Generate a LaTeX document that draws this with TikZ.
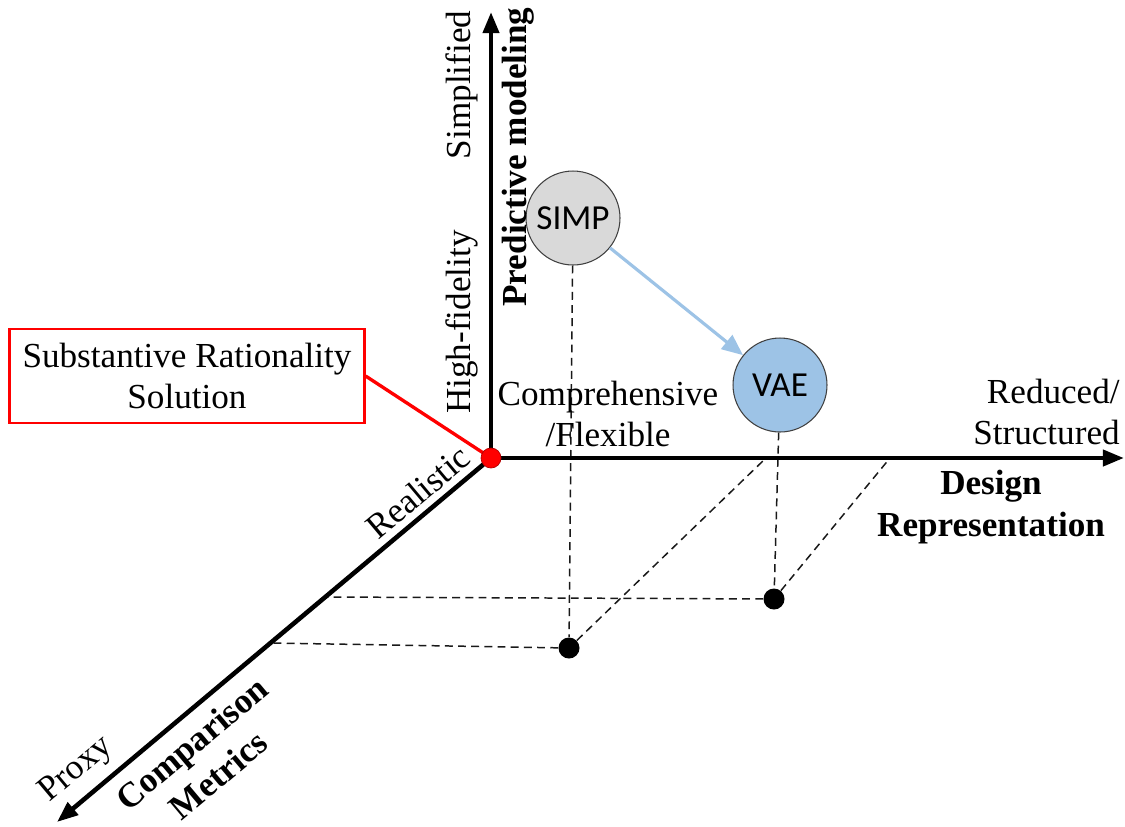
\documentclass[tikz,border=0pt]{standalone}
\usepackage{fontspec}
\setmainfont{Liberation Serif}
\newfontfamily\bubfont{Carlito}
\usepackage{tikz}
\usetikzlibrary{arrows.meta}
\definecolor{simpgray}{RGB}{217,217,217}
\definecolor{vaeblue}{RGB}{157,195,230}
\definecolor{ringgray}{RGB}{64,64,64}

\begin{document}
\begin{tikzpicture}[x=0.02cm,y=-0.02cm,
                  ax/.style={line width=2.6pt,-{Triangle[length=12pt,width=9pt]}},
                  dsh/.style={dash pattern=on 4.5pt off 3pt,line width=0.85pt,black!90},
                  bub/.style={circle,draw=ringgray,line width=0.6pt,minimum size=1.88cm,inner sep=0pt,font=\bubfont\fontsize{20}{24}\selectfont},
                  dot/.style={circle,fill=black,minimum size=0.42cm,inner sep=0pt},
                  lbl/.style={font=\fontsize{20}{23.5}\selectfont,align=center,inner sep=0pt},
                  blbl/.style={lbl,font=\bfseries\fontsize{20}{23.5}\selectfont}
                ]
                \useasboundingbox (0,0) rectangle (1125,826);
                \coordinate (o) at (491,458);
                \coordinate (ytip) at (491,12);
                \coordinate (xtip) at (1124,458);
                \coordinate (ztip) at (57,822);
                \coordinate (xA) at (766,458);
                \coordinate (xB) at (890,458);
                \coordinate (zA) at (272,643);
                \coordinate (zB) at (327,597);

                \node[bub,fill=simpgray] (simp) at (573,218) {SIMP};
                \node[bub,fill=vaeblue] (vae) at (780,385) {VAE};
                \node[dot] (pA) at (569,648) {};
                \node[dot] (pB) at (774,599) {};

                \draw[dsh] (simp) -- (pA);
                \draw[dsh] (vae) -- (pB);
                \draw[dsh] (pA) -- (xA);
                \draw[dsh] (pB) -- (xB);
                \draw[dsh] (pA) -- (zA);
                \draw[dsh] (pB) -- (zB);
                \draw[vaeblue,line width=1.8pt,-{Triangle[length=12pt,width=10pt]}] (simp) -- (vae);

                \draw[ax] (o) -- (ytip);
                \draw[ax] (o) -- (xtip);
                \draw[ax] (o) -- (ztip);

                \node[lbl,draw=red,line width=1.3pt,minimum width=7.1cm,minimum height=1.88cm] (srs) at (187,376) {Substantive Rationality\\Solution};
                \draw[red,line width=1.9pt] (srs.east) -- (o);
                \node[circle,fill=red,draw=red!70!black,line width=0.4pt,minimum size=0.4cm,inner sep=0pt] (orig) at (o) {};

                \node[lbl,rotate=90] (simpl) at (462,85) {Simplified};
                \node[lbl,rotate=90] (hifi) at (462,322) {High-fidelity};
                \node[blbl,rotate=90] (predmod) at (518,157) {Predictive modeling};
                \node[lbl] (compflex) at (608,414) {Comprehensive\\/Flexible};
                \node[lbl,align=right,anchor=east] (redstr) at (1120,412) {Reduced/\\Structured};
                \node[blbl] (desrep) at (991,507) {Design\\Representation};
                \node[lbl,rotate=40] (real) at (418,492) {Realistic};
                \node[lbl,rotate=40] (proxy) at (77,770) {Proxy};
                \node[blbl,rotate=40] (compmet) at (205,759) {Comparison\\Metrics};
                \end{tikzpicture}
\end{document}
